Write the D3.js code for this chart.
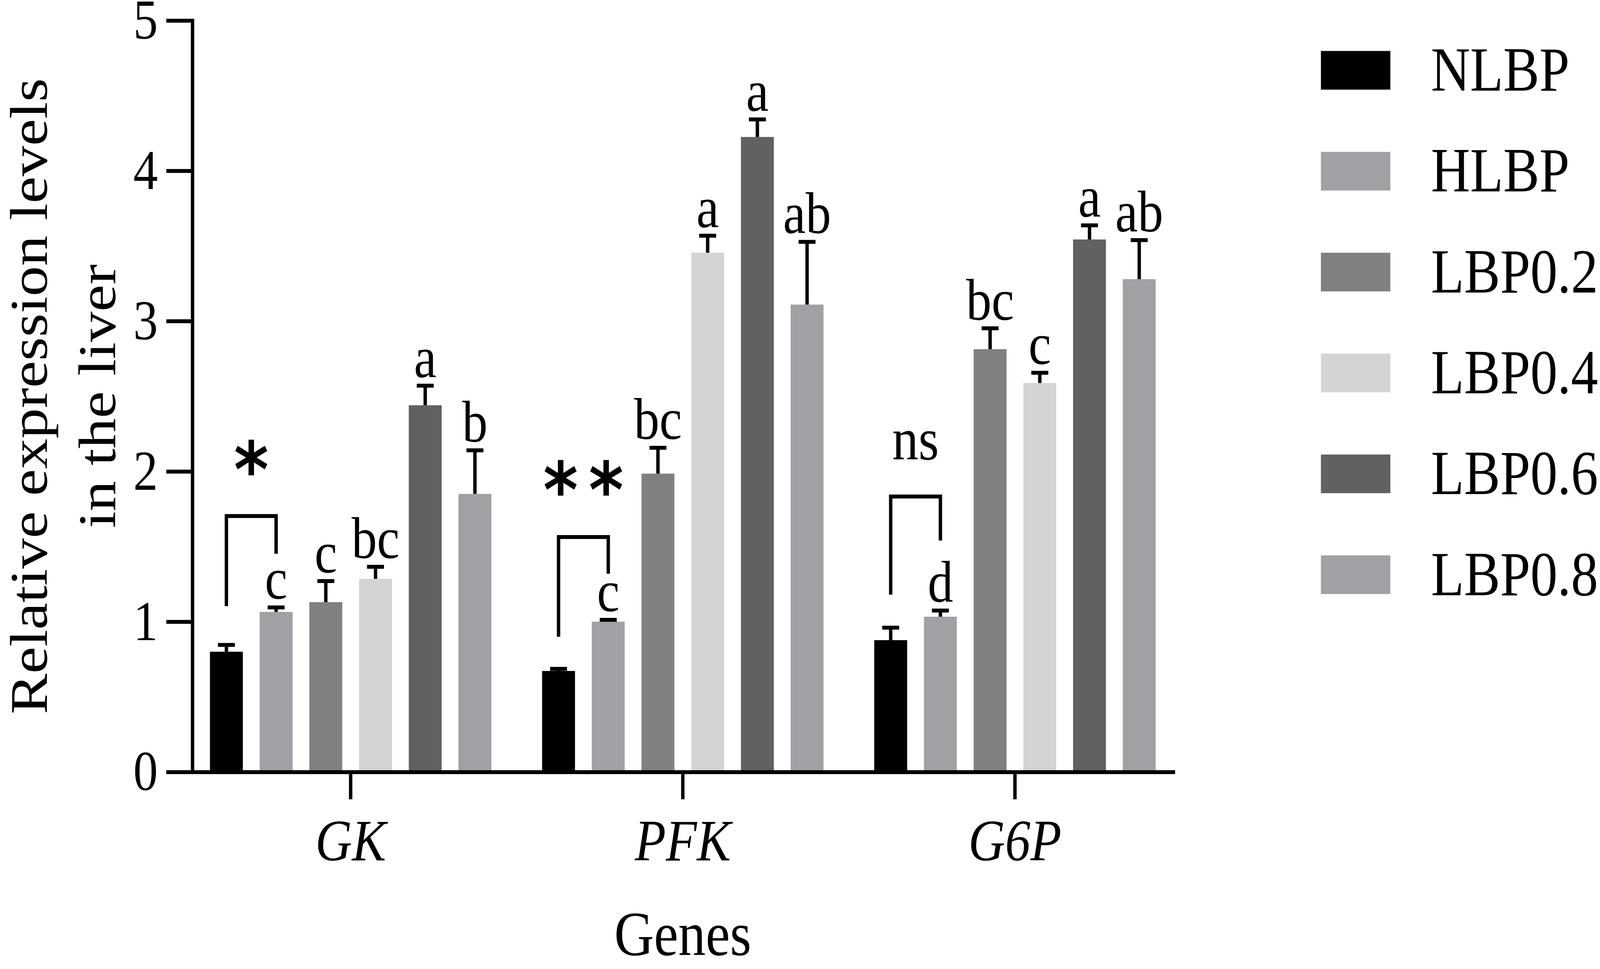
<!DOCTYPE html>
<html>
<head>
<meta charset="utf-8">
<script src="https://cdn.jsdelivr.net/npm/d3@7"></script>
<style>
  html, body { margin: 0; padding: 0; background: #ffffff; width: 100%; height: 100%; overflow: hidden; }
  svg { display: block; width: 100vw; height: 100vh; }
</style>
</head>
<body>
<svg id="chart" viewBox="0 0 4724 2481" preserveAspectRatio="none"></svg>
<script>
// ---------------- DATA ----------------
const genes = ["GK", "PFK", "G6P"];
const groups = ["NLBP", "HLBP", "LBP0.2", "LBP0.4", "LBP0.6", "LBP0.8"];
const groupColors = ["#000000", "#a1a1a5", "#808080", "#d4d4d4", "#616161", "#a1a1a5"];

const meanGK  = [0.800, 1.065, 1.130, 1.285, 2.440, 1.850];
const errGK   = [0.045, 0.030, 0.140, 0.080, 0.130, 0.290];
const meanPFK = [0.672, 1.000, 1.985, 3.455, 4.225, 3.110];
const errPFK  = [0.014, 0.012, 0.172, 0.113, 0.117, 0.417];
const meanG6P = [0.877, 1.033, 2.813, 2.588, 3.543, 3.279];
const errG6P  = [0.083, 0.041, 0.139, 0.068, 0.094, 0.260];

const lettersGK  = ["", "c", "c", "bc", "a", "b"];
const lettersPFK = ["", "c", "bc", "a", "a", "ab"];
const lettersG6P = ["", "d", "bc", "c", "a", "ab"];

const yTicks = [0, 1, 2, 3, 4, 5];

// NLBP vs HLBP comparison brackets (values on the y scale)
const sigLabels    = ["*", "**", "ns"];
const bracketLeft  = [1.103, 0.900, 1.180];
const bracketTop   = [1.703, 1.563, 1.833];
const bracketRight = [1.452, 1.319, 1.540];
const sigCenter    = [2.075, 1.941, 2.174];

const yTitleLines = ["Relative expression levels", "in the liver"];
const xTitle = "Genes";

// ---------------- BUILD ----------------
const means = [meanGK, meanPFK, meanG6P];
const errs = [errGK, errPFK, errG6P];
const letters = [lettersGK, lettersPFK, lettersG6P];
const rows = [];
genes.forEach((g, gi) => groups.forEach((s, si) => rows.push({
  gene: g, group: s, si, mean: means[gi][si], err: errs[gi][si], letter: letters[gi][si]
})));

const FONT = "'Liberation Serif', 'Times New Roman', Times, serif";
const svg = d3.select("#chart");
const plotLeft = 568, plotRight = 3464, plotTop = 52.5, plotBottom = 1976.5;

const y = d3.scaleLinear().domain([0, 5]).range([plotBottom, plotTop]);
const x0 = d3.scaleBand().domain(genes).range([plotLeft, plotRight])
  .paddingInner(0.1021).paddingOuter(0.0276);
const x1 = d3.scaleBand().domain(groups).range([0, x0.bandwidth()])
  .paddingInner(0.338).paddingOuter(0.169);
const color = d3.scaleOrdinal().domain(groups).range(groupColors);
const cx = d => x0(d.gene) + x1(d.group) + x1.bandwidth() / 2;

// bars
svg.append("g").selectAll("rect").data(rows).join("rect")
  .attr("x", d => x0(d.gene) + x1(d.group))
  .attr("width", x1.bandwidth())
  .attr("y", d => y(d.mean))
  .attr("height", d => y(0) - y(d.mean))
  .attr("fill", d => color(d.group));

// error bars (upper only)
const eb = svg.append("g").attr("stroke", "#000").attr("stroke-width", 10).attr("fill", "none");
eb.selectAll("line.v").data(rows).join("line").attr("class", "v")
  .attr("x1", cx).attr("x2", cx)
  .attr("y1", d => y(d.mean)).attr("y2", d => y(d.mean + d.err));
eb.selectAll("line.c").data(rows).join("line").attr("class", "c")
  .attr("x1", d => cx(d) - 25).attr("x2", d => cx(d) + 25)
  .attr("y1", d => y(d.mean + d.err)).attr("y2", d => y(d.mean + d.err));

// letters
svg.append("g").selectAll("text").data(rows.filter(d => d.letter)).join("text")
  .attr("x", cx)
  .attr("y", d => y(d.mean + d.err) - 22)
  .attr("text-anchor", "middle")
  .attr("font-family", FONT)
  .attr("font-size", 150)
  .attr("fill", "#000")
  .text(d => d.letter);

// brackets
const brk = genes.map((g, i) => {
  const xl = x0(g) + x1(groups[0]) + x1.bandwidth() / 2;
  const xr = x0(g) + x1(groups[1]) + x1.bandwidth() / 2;
  return { g, i, xl, xr };
});
svg.append("g").selectAll("path").data(brk).join("path")
  .attr("d", d => `M${d.xl},${y(bracketLeft[d.i])}V${y(bracketTop[d.i])}H${d.xr}V${y(bracketRight[d.i])}`)
  .attr("fill", "none").attr("stroke", "#000").attr("stroke-width", 10)
  .attr("stroke-linejoin", "miter");

// significance labels
const sig = svg.append("g");
brk.forEach(d => {
  const lab = sigLabels[d.i];
  const mid = (d.xl + d.xr) / 2;
  if (lab === "ns") {
    const fs = 155;
    sig.append("text")
      .attr("x", mid).attr("y", y(sigCenter[d.i]) + 0.23 * fs)
      .attr("text-anchor", "middle").attr("font-family", FONT)
      .attr("font-size", fs).text(lab);
  } else {
    const fs = 196;
    const ls = lab.length > 1 ? 32 : 0;
    sig.append("text")
      .attr("x", mid + ls / 2).attr("y", y(sigCenter[d.i]) + 0.48 * fs)
      .attr("text-anchor", "middle").attr("font-family", "'DejaVu Sans'")
      .attr("font-weight", "bold").attr("font-size", fs)
      .attr("letter-spacing", ls)
      .text(lab);
  }
});

// axes
const yAxis = svg.append("g").attr("transform", `translate(${plotLeft},0)`)
  .call(d3.axisLeft(y).tickValues(yTicks).tickFormat(d3.format("d"))
    .tickSize(77).tickPadding(25).tickSizeOuter(0));
const xAxis = svg.append("g").attr("transform", `translate(0,${plotBottom})`)
  .call(d3.axisBottom(x0).tickSize(70).tickPadding(50).tickSizeOuter(0));

[yAxis, xAxis].forEach(a => {
  a.select(".domain").attr("stroke", "#000").attr("stroke-width", 10).attr("stroke-linecap", "square");
  a.selectAll(".tick line").attr("stroke", "#000").attr("stroke-width", 10);
  a.selectAll(".tick text").attr("fill", "#000").attr("font-family", FONT);
});
yAxis.selectAll(".tick text").attr("font-size", 145);
xAxis.selectAll(".tick text").attr("font-size", 150).attr("font-style", "italic");

// axis titles
const yt = svg.append("g").attr("font-family", FONT).attr("font-size", 156).attr("text-anchor", "middle");
const yMid = (plotTop + plotBottom) / 2;
[138, 340].forEach((bx, i) => {
  yt.append("text").attr("transform", `translate(${bx},${yMid}) rotate(-90)`).text(yTitleLines[i]);
});
svg.append("text").attr("x", (plotLeft + plotRight) / 2).attr("y", 2445)
  .attr("text-anchor", "middle").attr("font-family", FONT).attr("font-size", 162).text(xTitle);

// legend
const legend = svg.append("g").attr("transform", "translate(3900,0)");
const li = legend.selectAll("g").data(groups).join("g")
  .attr("transform", (d, i) => `translate(0,${180 + i * 258.3})`);
li.append("rect").attr("x", 0).attr("y", -49.5).attr("width", 205).attr("height", 99)
  .attr("fill", d => color(d));
li.append("text").attr("x", 325).attr("y", 52).attr("font-family", FONT)
  .attr("font-size", 160).attr("fill", "#000").text(d => d);
</script>
</body>
</html>
